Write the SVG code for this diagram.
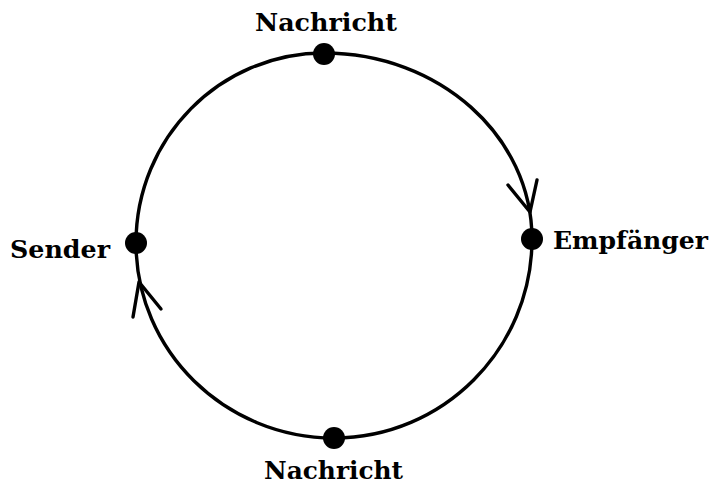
<svg xmlns="http://www.w3.org/2000/svg" width="713" height="486" viewBox="0 0 713 486">
<style>
.lbl{font-family:"DejaVu Serif","Liberation Serif",serif;font-weight:bold;font-size:24px;fill:#000}
.ln{fill:none;stroke:#000;stroke-width:3.4;stroke-linecap:round;stroke-linejoin:round}
.dot{fill:#000}
</style>
<rect width="713" height="486" fill="#fff"/>
<g id="connectors">
<path class="ln" d="M324,53 C439,53 532,136 532,239 C532,349 443,438 334,438 C225,438 136,351 136,243 C136,138 220,53 324,53 Z"/>
<path class="ln" d="M508,185 L530,212 L537,180"/>
<path class="ln" d="M133,317 L139,282 L161,309"/>
</g>
<g id="node-top"><circle class="dot" cx="324" cy="54" r="11"/><text class="lbl" x="255" y="31" textLength="142" lengthAdjust="spacingAndGlyphs">Nachricht</text></g>
<g id="node-right"><circle class="dot" cx="532" cy="239" r="11"/><text class="lbl" x="553" y="249" textLength="155" lengthAdjust="spacingAndGlyphs">Empfänger</text></g>
<g id="node-bottom"><circle class="dot" cx="334" cy="438" r="11"/><text class="lbl" x="264" y="479" textLength="139" lengthAdjust="spacingAndGlyphs">Nachricht</text></g>
<g id="node-left"><circle class="dot" cx="136" cy="243" r="11"/><text class="lbl" x="10" y="258" textLength="100" lengthAdjust="spacingAndGlyphs">Sender</text></g>
</svg>
